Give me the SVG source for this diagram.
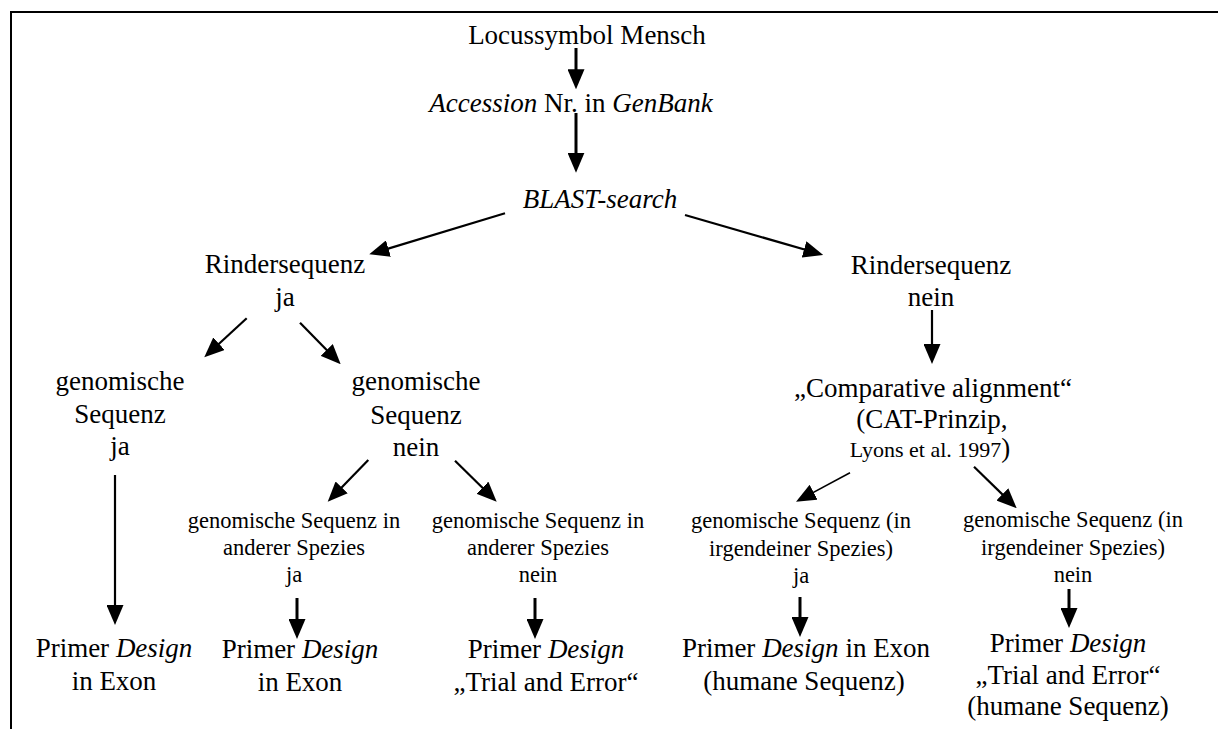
<svg xmlns="http://www.w3.org/2000/svg" width="1218" height="729" viewBox="0 0 1218 729">
<style>
text{font-family:"Liberation Serif","Times New Roman",serif;fill:#000;text-anchor:middle}
.m{font-size:27px}
.s{font-size:22.5px}
.i{font-style:italic}
.c line{stroke:#000;fill:none;marker-end:url(#ah)}
.w3{stroke-width:3}
.w2{stroke-width:2.2}
.w1{stroke-width:1.6}
</style>
<defs>
<marker id="ah" viewBox="0 0 20 17" refX="14" refY="8.5" markerWidth="20" markerHeight="17" markerUnits="userSpaceOnUse" orient="auto">
<path d="M0,0 L20,8.5 L0,17 z" fill="#000"/>
</marker>
</defs>
<rect width="1218" height="729" fill="#fff"/>
<path d="M11,729 V12 H1218" fill="none" stroke="#000" stroke-width="2"/>

<g id="n-locus"><text class="m" x="587" y="44">Locussymbol Mensch</text></g>
<g id="n-accession"><text class="m" x="571" y="112"><tspan class="i">Accession</tspan> Nr. in <tspan class="i">GenBank</tspan></text></g>
<g id="n-blast"><text class="m i" x="600" y="208">BLAST-search</text></g>
<g id="n-rind-ja"><text class="m" x="285" y="273">Rindersequenz</text><text class="m" x="285" y="306">ja</text></g>
<g id="n-rind-nein"><text class="m" x="931" y="274">Rindersequenz</text><text class="m" x="931" y="306">nein</text></g>
<g id="n-gen-ja"><text class="m" x="120" y="390">genomische</text><text class="m" x="120" y="423">Sequenz</text><text class="m" x="120" y="455">ja</text></g>
<g id="n-gen-nein"><text class="m" x="416" y="390">genomische</text><text class="m" x="416" y="424">Sequenz</text><text class="m" x="416" y="456">nein</text></g>
<g id="n-cat"><text class="m" x="933" y="397">„Comparative alignment“</text><text class="m" x="932" y="428">(CAT-Prinzip,</text><text class="m" x="930" y="457"><tspan style="font-size:22px">Lyons et al. 1997</tspan>)</text></g>
<g id="n-and-ja"><text class="s" x="294" y="528">genomische Sequenz in</text><text class="s" x="294" y="555">anderer Spezies</text><text class="s" x="294" y="582">ja</text></g>
<g id="n-and-nein"><text class="s" x="538" y="528">genomische Sequenz in</text><text class="s" x="538" y="555">anderer Spezies</text><text class="s" x="538" y="582">nein</text></g>
<g id="n-irg-ja"><text class="s" x="801" y="528">genomische Sequenz (in</text><text class="s" x="801" y="556">irgendeiner Spezies)</text><text class="s" x="801" y="583">ja</text></g>
<g id="n-irg-nein"><text class="s" x="1073" y="527">genomische Sequenz (in</text><text class="s" x="1073" y="555">irgendeiner Spezies)</text><text class="s" x="1073" y="582">nein</text></g>
<g id="n-p1"><text class="m" x="114" y="657">Primer <tspan class="i">Design</tspan></text><text class="m" x="114" y="690">in Exon</text></g>
<g id="n-p2"><text class="m" x="300" y="658">Primer <tspan class="i">Design</tspan></text><text class="m" x="300" y="691">in Exon</text></g>
<g id="n-p3"><text class="m" x="546" y="658">Primer <tspan class="i">Design</tspan></text><text class="m" x="546" y="691">„Trial and Error“</text></g>
<g id="n-p4"><text class="m" x="806" y="657">Primer <tspan class="i">Design</tspan> in Exon</text><text class="m" x="804" y="690">(humane Sequenz)</text></g>
<g id="n-p5"><text class="m" x="1068" y="652">Primer <tspan class="i">Design</tspan></text><text class="m" x="1068" y="684">„Trial and Error“</text><text class="m" x="1068" y="715">(humane Sequenz)</text></g>

<g id="connectors" class="c">
<line class="w3" x1="576" y1="48" x2="576" y2="83.3"/>
<line class="w3" x1="576" y1="113" x2="576" y2="166.7"/>
<line class="w2" x1="505" y1="213.3" x2="375" y2="252.6"/>
<line class="w2" x1="685" y1="215" x2="817.5" y2="253.3"/>
<line class="w2" x1="246.7" y1="318.3" x2="208.7" y2="353.2"/>
<line class="w2" x1="300" y1="322.7" x2="336.5" y2="360"/>
<line class="w2" x1="115" y1="475" x2="115" y2="619"/>
<line class="w2" x1="368.3" y1="460" x2="331.9" y2="497.4"/>
<line class="w2" x1="455" y1="460.7" x2="492.4" y2="497.5"/>
<line class="w3" x1="297" y1="598" x2="297" y2="633"/>
<line class="w3" x1="535" y1="598" x2="535" y2="633"/>
<line class="w2" x1="932" y1="310" x2="932" y2="358"/>
<line class="w1" x1="850" y1="472.7" x2="801.3" y2="498.9"/>
<line class="w2" x1="974" y1="466.7" x2="1012.4" y2="504.1"/>
<line class="w3" x1="800" y1="597" x2="800" y2="631"/>
<line class="w3" x1="1069" y1="589" x2="1069" y2="622"/>
</g>
</svg>
